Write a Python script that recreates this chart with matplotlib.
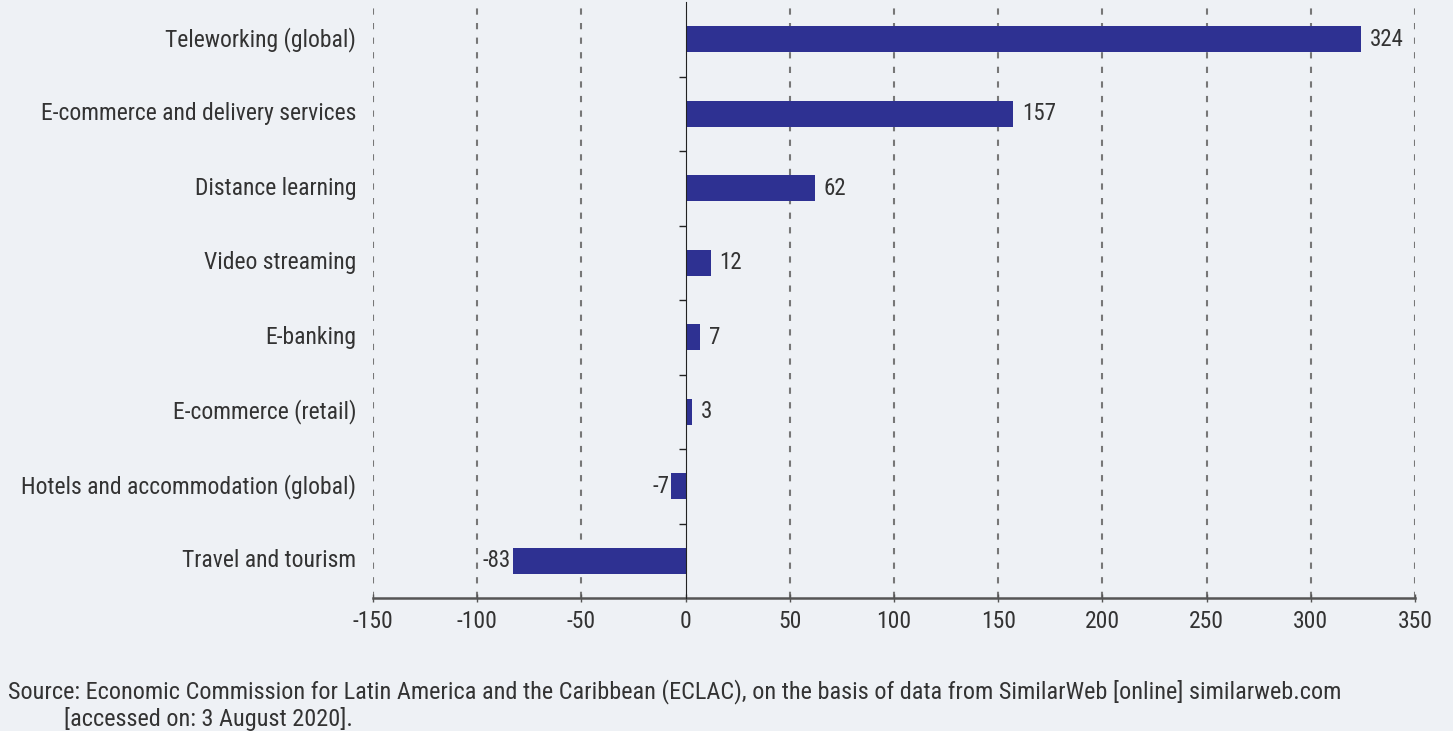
import matplotlib
matplotlib.use("Agg")
import matplotlib.pyplot as plt
from matplotlib import font_manager
from matplotlib.transforms import blended_transform_factory, offset_copy

categories = ["Teleworking (global)", "E-commerce and delivery services", "Distance learning",
              "Video streaming", "E-banking", "E-commerce (retail)",
              "Hotels and accommodation (global)", "Travel and tourism"]
values = [324, 157, 62, 12, 7, 3, -7, -83]
xticks = [-150, -100, -50, 0, 50, 100, 150, 200, 250, 300, 350]

names = {f.name for f in font_manager.fontManager.ttflist}
fam = [f for f in ["Roboto Condensed", "Liberation Sans Narrow", "Roboto", "DejaVu Sans"] if f in names]
plt.rcParams['font.family'] = fam + ["DejaVu Sans"]

bg = "#eef1f5"
tc = "#333333"
fig = plt.figure(figsize=(14.53, 7.31), dpi=100, facecolor=bg)
ax = fig.add_axes([373/1453, 1-598/731, (1415-373)/1453, 596/731])
ax.set_facecolor("none")

n = len(categories)
ypos = list(range(n))
ax.barh(ypos, values, height=0.35, color="#2e3192", zorder=3)
ax.set_ylim(n - 0.5, -0.5)
ax.set_xlim(-150, 350)

ax.set_xticks(xticks)
ax.set_xticklabels([str(t) for t in xticks], fontsize=17, color=tc)
ax.tick_params(axis='x', direction='inout', length=6, width=1, color="#555555", pad=6)

for t in xticks:
    if t != 0:
        ax.axvline(t, color="#777777", lw=1.5, ls=(0, (3, 4)), zorder=1)

for s in ["top", "right"]:
    ax.spines[s].set_visible(False)
ax.spines["left"].set_position(("data", 0))
ax.spines["left"].set_color("#222222")
ax.spines["left"].set_zorder(4)
ax.spines["bottom"].set_color("#555555")
ax.spines["bottom"].set_linewidth(1.8)

ax.set_yticks([i + 0.5 for i in range(n - 1)])
ax.set_yticklabels([])
ax.tick_params(axis='y', direction='out', length=5, width=1, color="#222222")

tr = blended_transform_factory(ax.transAxes, ax.transData)
for i, c in enumerate(categories):
    ax.text(-0.016, i, c, transform=tr, ha="right", va="center", fontsize=17, color=tc)

for i, v in enumerate(values):
    if v >= 0:
        t = offset_copy(ax.transData, fig=fig, x=9, y=0, units='dots')
        ax.text(v, i, str(v), transform=t, ha="left", va="center", fontsize=16.5, color=tc)
    else:
        t = offset_copy(ax.transData, fig=fig, x=-2, y=0, units='dots')
        ax.text(v, i, str(v), transform=t, ha="right", va="center", fontsize=16.5, color=tc)

fig.text(8/1453, 1-692/731, "Source: Economic Commission for Latin America and the Caribbean (ECLAC), on the basis of data from SimilarWeb [online] similarweb.com",
         ha="left", va="center", fontsize=17.5, color=tc)
fig.text(64/1453, 1-719/731, "[accessed on: 3 August 2020].", ha="left", va="center", fontsize=17.5, color=tc)

fig.savefig("out.png", dpi=100, facecolor=bg)
